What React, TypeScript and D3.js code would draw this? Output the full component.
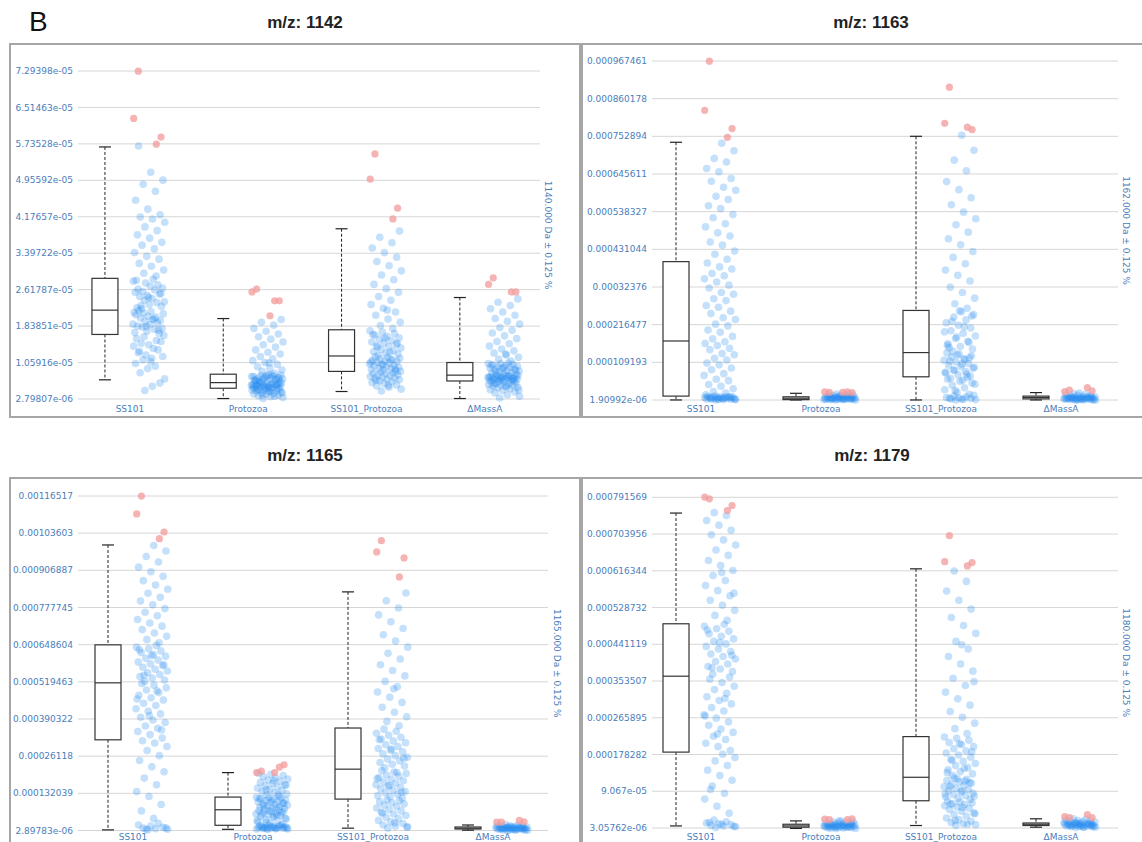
import * as d3 from 'd3';

// categories and labels
const categories = ['SS101', 'Protozoa', 'SS101_Protozoa', '\u0394MassA'];
const titles = ['m/z: 1142', 'm/z: 1163', 'm/z: 1165', 'm/z: 1179'];
const massLabels = [
  '1140.000 Da \u00b1 0.125 %',
  '1162.000 Da \u00b1 0.125 %',
  '1165.000 Da \u00b1 0.125 %',
  '1180.000 Da \u00b1 0.125 %',
];

// y tick labels, bottom to top
const ticks1142 = ['2.79807e-06', '1.05916e-05', '1.83851e-05', '2.61787e-05', '3.39722e-05', '4.17657e-05', '4.95592e-05', '5.73528e-05', '6.51463e-05', '7.29398e-05'];
const ticks1163 = ['1.90992e-06', '0.000109193', '0.000216477', '0.00032376', '0.000431044', '0.000538327', '0.000645611', '0.000752894', '0.000860178', '0.000967461'];
const ticks1165 = ['2.89783e-06', '0.000132039', '0.00026118', '0.000390322', '0.000519463', '0.000648604', '0.000777745', '0.000906887', '0.00103603', '0.00116517'];
const ticks1179 = ['3.05762e-06', '9.067e-05', '0.000178282', '0.000265895', '0.000353507', '0.000441119', '0.000528732', '0.000616344', '0.000703956', '0.000791569'];

// value units used in the arrays below
const units = [1e-5, 1e-4, 1e-4, 1e-4];

// box stats per category: [lower whisker, q1, median, q3, upper whisker]
const box1142 = [[0.69, 1.66, 2.18, 2.86, 5.67], [0.29, 0.51, 0.63, 0.81, 2.0], [0.44, 0.87, 1.2, 1.76, 3.92], [0.29, 0.665, 0.79, 1.06, 2.45]];
const box1163 = [[0.02, 0.13, 1.7, 3.96, 7.36], [0.02, 0.03, 0.07, 0.11, 0.21], [0.02, 0.68, 1.37, 2.57, 7.53], [0.02, 0.05, 0.09, 0.13, 0.23]];
const box1165 = [[0.05, 3.18, 5.16, 6.48, 9.95], [0.07, 0.21, 0.75, 1.19, 2.04], [0.11, 1.12, 2.16, 3.59, 8.32], [0.04, 0.08, 0.11, 0.15, 0.22]];
const box1179 = [[0.08, 1.84, 3.65, 4.9, 7.54], [0.02, 0.05, 0.08, 0.12, 0.2], [0.09, 0.68, 1.24, 2.21, 6.21], [0.05, 0.09, 0.12, 0.15, 0.25]];

// outliers per category
const out1142 = [[7.29, 6.28, 5.88, 5.73], [2.63, 2.57, 2.38, 2.38, 2.06], [5.52, 4.98, 4.36, 4.13], [2.87, 2.73, 2.57, 2.57]];
const out1163 = [[9.67, 8.27, 7.75, 7.5], [0.24, 0.25, 0.23, 0.25, 0.24], [8.93, 7.9, 7.72, 7.79], [0.3, 0.26, 0.28, 0.37]];
const out1165 = [[11.65, 11.03, 10.4, 10.17], [2.09, 2.04, 2.31, 2.23, 2.04], [10.1, 9.71, 9.5, 8.84], [0.32, 0.32, 0.33, 0.38]];
const out1179 = [[7.88, 7.92, 7.72, 7.6], [0.23, 0.24, 0.25, 0.23], [7.0, 6.38, 6.36, 6.28], [0.28, 0.3, 0.28, 0.35]];

// jittered observations
const ss101_1142 = [0.46, 0.71, 0.55, 0.84, 0.62, 0.93, 1.04, 0.98, 1.12, 1.19, 1.08, 1.27, 1.33, 1.22, 1.41, 1.36, 1.47, 1.51, 1.44, 1.57, 1.53, 1.61, 1.64, 1.15, 1.3,
  1.68, 1.73, 1.7, 1.77, 1.82, 1.79, 1.87, 1.84, 1.91, 1.94, 1.88, 1.98, 2.01, 1.96, 2.05, 2.08, 2.03, 2.12, 2.1, 2.15, 2.17, 1.75, 1.83, 2.13, 1.99,
  2.21, 2.26, 2.3, 2.23, 2.34, 2.39, 2.36, 2.43, 2.47, 2.52, 2.49, 2.56, 2.61, 2.58, 2.65, 2.69, 2.63, 2.72, 2.76, 2.8, 2.84, 2.28, 2.54, 2.45, 2.82,
  2.91, 2.97, 3.04, 3.12, 3.18, 3.27, 3.33, 3.41, 3.49, 3.57, 3.63, 3.72, 3.79, 3.88, 3.96, 4.06, 4.13, 4.17, 4.22, 4.34, 4.53, 4.72, 4.87, 4.96, 5.13, 5.69];
const protozoa_1142 = [0.29, 0.31, 0.33, 0.35, 0.36, 0.38, 0.39, 0.4, 0.42, 0.43, 0.44, 0.45, 0.46, 0.46, 0.47, 0.48, 0.48, 0.49, 0.5, 0.5, 0.34, 0.37, 0.41, 0.44, 0.49,
  0.51, 0.52, 0.53, 0.53, 0.54, 0.55, 0.55, 0.56, 0.57, 0.57, 0.58, 0.58, 0.59, 0.6, 0.6, 0.61, 0.61, 0.62, 0.62, 0.52, 0.56, 0.59, 0.54, 0.58, 0.61,
  0.64, 0.65, 0.66, 0.68, 0.69, 0.7, 0.71, 0.72, 0.73, 0.74, 0.75, 0.76, 0.77, 0.78, 0.79, 0.8, 0.67, 0.7, 0.73, 0.76, 0.79, 0.65, 0.72, 0.78, 0.69,
  0.83, 0.87, 0.9, 0.94, 0.97, 1.02, 1.06, 1.1, 1.14, 1.19, 1.24, 1.28, 1.33, 1.39, 1.44, 1.5, 1.56, 1.61, 1.67, 1.73, 1.79, 1.86, 1.92, 1.98, 1.05];
const ss101p_1142 = [0.45, 0.49, 0.53, 0.56, 0.58, 0.61, 0.63, 0.65, 0.67, 0.69, 0.7, 0.72, 0.73, 0.75, 0.76, 0.78, 0.79, 0.8, 0.82, 0.83, 0.84, 0.86, 0.87, 0.57, 0.68,
  0.88, 0.9, 0.91, 0.93, 0.94, 0.96, 0.97, 0.99, 1.0, 1.02, 1.03, 1.05, 1.06, 1.08, 1.09, 1.11, 1.12, 1.14, 1.15, 1.17, 1.18, 0.92, 1.01, 1.07, 1.13,
  1.21, 1.24, 1.26, 1.29, 1.31, 1.34, 1.37, 1.4, 1.42, 1.45, 1.48, 1.5, 1.53, 1.56, 1.59, 1.62, 1.65, 1.68, 1.71, 1.74, 1.28, 1.39, 1.47, 1.58, 1.66,
  1.79, 1.85, 1.92, 1.99, 2.07, 2.14, 2.22, 2.3, 2.39, 2.47, 2.56, 2.64, 2.73, 2.83, 2.93, 3.02, 3.13, 3.22, 3.31, 3.41, 3.51, 3.62, 3.74, 3.87, 2.18];
const dmass_1142 = [0.3, 0.34, 0.37, 0.41, 0.43, 0.46, 0.48, 0.5, 0.52, 0.53, 0.55, 0.56, 0.57, 0.58, 0.59, 0.6, 0.61, 0.62, 0.63, 0.64, 0.65, 0.66, 0.47, 0.54, 0.61,
  0.67, 0.68, 0.68, 0.69, 0.7, 0.7, 0.71, 0.72, 0.72, 0.73, 0.74, 0.74, 0.75, 0.75, 0.76, 0.76, 0.77, 0.77, 0.78, 0.78, 0.69, 0.71, 0.73, 0.75, 0.77,
  0.8, 0.81, 0.83, 0.84, 0.85, 0.87, 0.88, 0.89, 0.91, 0.92, 0.93, 0.94, 0.96, 0.97, 0.98, 0.99, 1.01, 1.02, 1.03, 1.04, 1.05, 0.86, 0.9, 0.95, 1.0,
  1.09, 1.13, 1.17, 1.22, 1.26, 1.31, 1.35, 1.41, 1.46, 1.51, 1.57, 1.63, 1.69, 1.75, 1.81, 1.88, 1.94, 2.0, 2.07, 2.14, 2.21, 2.28, 2.35, 2.42, 1.24];

const ss101_1163 = [0.02, 0.03, 0.03, 0.04, 0.04, 0.05, 0.05, 0.06, 0.06, 0.07, 0.07, 0.08, 0.08, 0.09, 0.09, 0.1, 0.1, 0.11, 0.11, 0.12, 0.12, 0.13, 0.04, 0.06, 0.08, 0.1, 0.05,
  0.17, 0.22, 0.26, 0.34, 0.41, 0.46, 0.57, 0.61, 0.72, 0.77, 0.88, 0.93, 1.02, 1.07, 1.16, 1.21, 1.31, 1.34, 1.45, 1.49, 1.57, 1.63, 1.68,
  1.76, 1.83, 1.95, 2.01, 2.13, 2.18, 2.31, 2.36, 2.48, 2.55, 2.66, 2.71, 2.85, 2.9, 3.03, 3.08, 3.21, 3.29, 3.38, 3.47, 3.56, 3.62, 3.75, 3.81, 3.92,
  4.03, 4.17, 4.26, 4.43, 4.52, 4.69, 4.78, 4.95, 5.04, 5.21, 5.3, 5.47, 5.55, 5.73, 5.82, 5.99, 6.08, 6.25, 6.33, 6.52, 6.61, 6.8, 6.9, 7.12, 7.33];
const protozoa_1163 = [0.02, 0.02, 0.03, 0.03, 0.03, 0.04, 0.04, 0.04, 0.05, 0.05, 0.05, 0.05, 0.06, 0.06, 0.06, 0.07, 0.07, 0.07, 0.08, 0.08,
  0.08, 0.09, 0.09, 0.1, 0.1, 0.11, 0.12, 0.12, 0.13, 0.14, 0.15, 0.16, 0.17, 0.18, 0.19, 0.03, 0.05, 0.06, 0.08, 0.11];
const ss101p_1163 = [0.02, 0.03, 0.04, 0.05, 0.06, 0.08, 0.09, 0.11, 0.13, 0.15, 0.04, 0.07, 0.18, 0.24, 0.31, 0.37, 0.44, 0.5, 0.55, 0.61, 0.66, 0.29, 0.47, 0.58, 0.64,
  0.7, 0.74, 0.79, 0.83, 0.88, 0.92, 0.97, 1.01, 1.06, 1.1, 1.15, 1.19, 1.24, 1.28, 1.33, 1.36, 0.76, 0.86, 0.95, 1.04, 1.13, 1.22, 1.3, 0.81, 1.17,
  1.41, 1.47, 1.54, 1.62, 1.69, 1.77, 1.84, 1.92, 1.99, 2.07, 2.15, 2.22, 2.3, 2.38, 2.45, 2.53, 1.51, 1.66, 1.81, 1.96, 2.11, 2.26, 2.41, 2.56, 1.58,
  2.63, 2.76, 2.92, 3.08, 3.23, 3.41, 3.57, 3.72, 3.9, 4.08, 4.25, 4.44, 4.61, 4.8, 5.01, 5.18, 5.37, 5.58, 5.78, 6.01, 6.24, 6.55, 6.85, 7.13, 7.56];
const dmass_1163 = [0.01, 0.02, 0.02, 0.03, 0.03, 0.03, 0.04, 0.04, 0.05, 0.05, 0.05, 0.06, 0.06, 0.06, 0.07, 0.07, 0.08, 0.08, 0.09, 0.09,
  0.1, 0.1, 0.11, 0.12, 0.13, 0.14, 0.15, 0.16, 0.18, 0.2, 0.02, 0.04, 0.06, 0.08, 0.03, 0.05, 0.07, 0.09, 0.11, 0.22];

const ss101_1165 = [0.05, 0.07, 0.09, 0.11, 0.14, 0.18, 0.22, 0.28, 0.08, 0.12, 0.45, 0.71, 0.93, 1.21, 1.38, 1.62, 1.85, 2.07, 2.24, 2.46, 2.63, 2.81, 2.95, 3.07, 3.15,
  3.24, 3.36, 3.47, 3.58, 3.66, 3.78, 3.87, 3.96, 4.08, 4.17, 4.26, 4.37, 4.45, 4.56, 4.64, 4.73, 4.82, 4.91, 4.99, 5.08, 5.14, 3.52, 4.02, 4.6, 4.88,
  5.21, 5.26, 5.33, 5.38, 5.45, 5.51, 5.57, 5.63, 5.7, 5.76, 5.82, 5.88, 5.95, 6.01, 6.08, 6.14, 6.21, 6.27, 6.34, 6.4, 6.46, 5.42, 5.79, 6.11, 6.31,
  6.55, 6.66, 6.78, 6.89, 7.01, 7.13, 7.24, 7.36, 7.49, 7.61, 7.74, 7.87, 8.0, 8.13, 8.27, 8.41, 8.56, 8.71, 8.86, 9.02, 9.18, 9.36, 9.55, 9.74, 9.93];
const protozoa_1165 = [0.07, 0.08, 0.09, 0.1, 0.11, 0.12, 0.13, 0.14, 0.15, 0.16, 0.17, 0.18, 0.19, 0.2, 0.08, 0.1, 0.12, 0.14, 0.16, 0.18, 0.2, 0.09, 0.11, 0.13, 0.15,
  0.24, 0.29, 0.33, 0.37, 0.41, 0.45, 0.49, 0.52, 0.55, 0.58, 0.61, 0.63, 0.66, 0.68, 0.7, 0.72, 0.74, 0.31, 0.43, 0.53, 0.6, 0.65, 0.71, 0.38, 0.57,
  0.77, 0.79, 0.81, 0.84, 0.86, 0.88, 0.91, 0.93, 0.95, 0.97, 1.0, 1.02, 1.04, 1.06, 1.09, 1.11, 1.13, 1.15, 1.17, 1.18, 0.82, 0.9, 0.98, 1.07, 1.14,
  1.22, 1.26, 1.3, 1.34, 1.38, 1.42, 1.46, 1.5, 1.54, 1.58, 1.62, 1.66, 1.7, 1.74, 1.78, 1.82, 1.86, 1.9, 1.94, 1.98, 2.02, 1.28, 1.44, 1.6, 1.76];
const ss101p_1165 = [0.11, 0.14, 0.18, 0.22, 0.27, 0.33, 0.38, 0.44, 0.49, 0.55, 0.6, 0.66, 0.71, 0.76, 0.81, 0.86, 0.91, 0.95, 0.99, 1.03, 1.07, 1.1, 0.16, 0.3, 0.63,
  1.15, 1.2, 1.24, 1.29, 1.34, 1.38, 1.43, 1.48, 1.52, 1.57, 1.62, 1.67, 1.71, 1.76, 1.81, 1.86, 1.91, 1.96, 2.01, 2.06, 2.11, 1.36, 1.59, 1.83, 2.04,
  2.21, 2.27, 2.33, 2.39, 2.45, 2.51, 2.57, 2.63, 2.69, 2.76, 2.82, 2.88, 2.95, 3.01, 3.08, 3.14, 3.21, 3.27, 3.34, 3.41, 3.48, 3.55, 2.54, 2.86, 3.18,
  3.67, 3.82, 3.98, 4.14, 4.31, 4.48, 4.66, 4.84, 5.02, 5.21, 5.4, 5.59, 5.79, 5.99, 6.19, 6.4, 6.61, 6.83, 7.05, 7.28, 7.52, 7.76, 8.01, 8.28, 4.95];
const dmass_1165 = [0.03, 0.04, 0.04, 0.05, 0.06, 0.06, 0.07, 0.07, 0.08, 0.08, 0.09, 0.09, 0.1, 0.1, 0.11, 0.11, 0.12, 0.12, 0.13, 0.13,
  0.14, 0.14, 0.15, 0.16, 0.17, 0.18, 0.19, 0.2, 0.22, 0.24, 0.05, 0.07, 0.09, 0.11, 0.13, 0.15, 0.06, 0.1, 0.12, 0.16];

const ss101_1179 = [0.04, 0.06, 0.08, 0.09, 0.11, 0.13, 0.15, 0.18, 0.22, 0.07, 0.12, 0.16, 0.38, 0.55, 0.72, 0.86, 1.03, 1.17, 1.28, 1.41, 1.52, 1.63, 1.71, 1.79, 0.95,
  1.88, 1.97, 2.05, 2.14, 2.22, 2.31, 2.39, 2.48, 2.56, 2.65, 2.73, 2.82, 2.9, 2.99, 3.07, 3.16, 3.24, 3.33, 3.41, 3.5, 3.58, 3.63, 2.27, 2.7, 3.12,
  3.7, 3.76, 3.82, 3.88, 3.94, 4.0, 4.06, 4.12, 4.18, 4.24, 4.3, 4.36, 4.42, 4.48, 4.54, 4.6, 4.66, 4.72, 4.78, 4.84, 4.89, 3.85, 4.15, 4.45, 4.75,
  4.98, 5.1, 5.22, 5.34, 5.46, 5.57, 5.69, 5.81, 5.93, 6.05, 6.17, 6.29, 6.41, 6.53, 6.66, 6.78, 6.9, 7.02, 7.13, 7.25, 7.36, 7.48, 7.55, 5.63, 6.12];
const protozoa_1179 = [0.02, 0.02, 0.03, 0.03, 0.04, 0.04, 0.05, 0.05, 0.05, 0.06, 0.06, 0.07, 0.07, 0.07, 0.08, 0.08, 0.08, 0.09, 0.09, 0.1,
  0.1, 0.11, 0.11, 0.12, 0.12, 0.13, 0.14, 0.15, 0.16, 0.17, 0.18, 0.19, 0.03, 0.05, 0.06, 0.08, 0.09, 0.11, 0.13, 0.2];
const ss101p_1179 = [0.09, 0.11, 0.13, 0.16, 0.19, 0.23, 0.27, 0.31, 0.35, 0.39, 0.43, 0.47, 0.5, 0.53, 0.56, 0.59, 0.61, 0.63, 0.65, 0.67, 0.12, 0.21, 0.37, 0.52, 0.6,
  0.71, 0.74, 0.77, 0.8, 0.83, 0.86, 0.89, 0.92, 0.95, 0.98, 1.01, 1.04, 1.07, 1.1, 1.13, 1.16, 1.19, 1.22, 0.79, 0.91, 1.02, 1.11, 1.2, 0.84, 1.15,
  1.28, 1.32, 1.37, 1.42, 1.47, 1.52, 1.57, 1.62, 1.67, 1.72, 1.77, 1.82, 1.87, 1.92, 1.97, 2.02, 2.07, 2.12, 2.17, 2.2, 1.45, 1.64, 1.85, 2.04, 1.35,
  2.28, 2.4, 2.53, 2.67, 2.81, 2.96, 3.11, 3.27, 3.43, 3.6, 3.77, 3.94, 4.12, 4.3, 4.48, 4.67, 4.86, 5.05, 5.25, 5.46, 5.68, 5.91, 6.16, 3.52, 4.4];
const dmass_1179 = [0.04, 0.05, 0.05, 0.06, 0.07, 0.07, 0.08, 0.08, 0.09, 0.09, 0.1, 0.1, 0.11, 0.11, 0.12, 0.12, 0.13, 0.13, 0.14, 0.14,
  0.15, 0.16, 0.17, 0.18, 0.19, 0.2, 0.21, 0.22, 0.24, 0.25, 0.06, 0.08, 0.1, 0.12, 0.14, 0.16, 0.05, 0.09, 0.11, 0.13];

const panels = [
  { title: titles[0], mass: massLabels[0], ticks: ticks1142, unit: units[0], boxes: box1142, outliers: out1142, points: [ss101_1142, protozoa_1142, ss101p_1142, dmass_1142] },
  { title: titles[1], mass: massLabels[1], ticks: ticks1163, unit: units[1], boxes: box1163, outliers: out1163, points: [ss101_1163, protozoa_1163, ss101p_1163, dmass_1163] },
  { title: titles[2], mass: massLabels[2], ticks: ticks1165, unit: units[2], boxes: box1165, outliers: out1165, points: [ss101_1165, protozoa_1165, ss101p_1165, dmass_1165] },
  { title: titles[3], mass: massLabels[3], ticks: ticks1179, unit: units[3], boxes: box1179, outliers: out1179, points: [ss101_1179, protozoa_1179, ss101p_1179, dmass_1179] },
];

// layout of the 2x2 grid
const layouts = [
  { fx: 10, fy: 44, fw: 570, fh: 373, top: 71, bottom: 399, band: [70.8, 544], grid: [78, 540], massX: 548, titleX: 305, titleY: 28, catY: 412 },
  { fx: 582, fy: 44, fw: 580, fh: 373, top: 61, bottom: 400, band: [641, 1121], grid: [652, 1118], massX: 1126, titleX: 871, titleY: 28, catY: 412 },
  { fx: 10, fy: 478, fw: 570, fh: 380, top: 496, bottom: 830.5, band: [73, 553], grid: [78, 548], massX: 557, titleX: 305, titleY: 461, catY: 840 },
  { fx: 582, fy: 478, fw: 580, fh: 380, top: 497.3, bottom: 828, band: [641, 1121], grid: [652, 1118], massX: 1126, titleX: 872, titleY: 461, catY: 840 },
];

const blue = '#4a7ebb';
const font = 'DejaVu Sans, Verdana, sans-serif';

// deterministic horizontal spread of the dots
const jitter = (i: number) => (i * 0.6180339887 + 0.37) % 1;

function Panel({ p, l }: { p: typeof panels[0]; l: typeof layouts[0] }) {
  const tickVals = p.ticks.map(Number);
  const y = d3.scaleLinear()
    .domain([d3.min(tickVals) as number, d3.max(tickVals) as number])
    .range([l.bottom, l.top]);
  const x = d3.scaleBand().domain(categories).range(l.band as [number, number]);
  const yv = (v: number) => y(v * p.unit);

  return (
    <g>
      <rect x={l.fx} y={l.fy} width={l.fw} height={l.fh} fill="none" stroke="#a6a6a6" strokeWidth={2} />
      <text x={l.titleX} y={l.titleY} textAnchor="middle" fontFamily="Liberation Sans, Arial, sans-serif"
        fontWeight="bold" fontSize={17} fill="#222">{p.title}</text>

      {tickVals.map((t, i) => (
        <g key={i}>
          <line x1={l.grid[0]} x2={l.grid[1]} y1={y(t)} y2={y(t)} stroke="#d6d6d6" strokeWidth={1} />
          <text x={l.grid[0] - 5} y={y(t)} dy="0.35em" textAnchor="end" fontFamily={font} fontSize={9} fill={blue}>
            {p.ticks[i]}
          </text>
        </g>
      ))}

      <text transform={`translate(${l.massX},${(l.top + l.bottom) / 2}) rotate(90)`} dy="0.35em" textAnchor="middle"
        fontFamily={font} fontSize={9} fill={blue}>{p.mass}</text>

      {categories.map((c, ci) => {
        const cx = (x(c) as number) + x.bandwidth() / 2;
        const bx = cx - 25;
        const [lo, q1, med, q3, hi] = p.boxes[ci];
        return (
          <g key={c}>
            <text x={cx} y={l.catY} textAnchor="middle" fontFamily={font} fontSize={9} fill={blue}>{c}</text>
            <line x1={bx} x2={bx} y1={yv(hi)} y2={yv(q3)} stroke="#222" strokeDasharray="3,2" />
            <line x1={bx} x2={bx} y1={yv(q1)} y2={yv(lo)} stroke="#222" strokeDasharray="3,2" />
            <line x1={bx - 6} x2={bx + 6} y1={yv(hi)} y2={yv(hi)} stroke="#222" strokeWidth={1.2} />
            <line x1={bx - 6} x2={bx + 6} y1={yv(lo)} y2={yv(lo)} stroke="#222" strokeWidth={1.2} />
            <rect x={bx - 13} y={yv(q3)} width={26} height={Math.max(yv(q1) - yv(q3), 1)} fill="#fff" stroke="#333" strokeWidth={1.2} />
            <line x1={bx - 13} x2={bx + 13} y1={yv(med)} y2={yv(med)} stroke="#333" strokeWidth={1.2} />
            {p.points[ci].map((v, i) => (
              <circle key={i} cx={cx + 3 + jitter(i) * 32} cy={yv(v)} r={3.8} fill="#1e88f0" fillOpacity={0.26} />
            ))}
            {p.outliers[ci].map((v, i) => (
              <circle key={'o' + i} cx={cx + 3 + jitter(i * 3 + 11) * 32} cy={yv(v)} r={3.6} fill="#f29a9a" fillOpacity={0.75} />
            ))}
          </g>
        );
      })}
    </g>
  );
}

export default function App() {
  return (
    <svg width={1142} height={842} style={{ position: 'absolute', left: 0, top: 0, background: '#fff' }}>
      <rect width={1142} height={842} fill="#fff" />
      <text x={29} y={31} fontFamily="Liberation Sans, Arial, sans-serif" fontSize={28} fill="#111">B</text>
      {panels.map((p, i) => <Panel key={i} p={p} l={layouts[i]} />)}
    </svg>
  );
}
